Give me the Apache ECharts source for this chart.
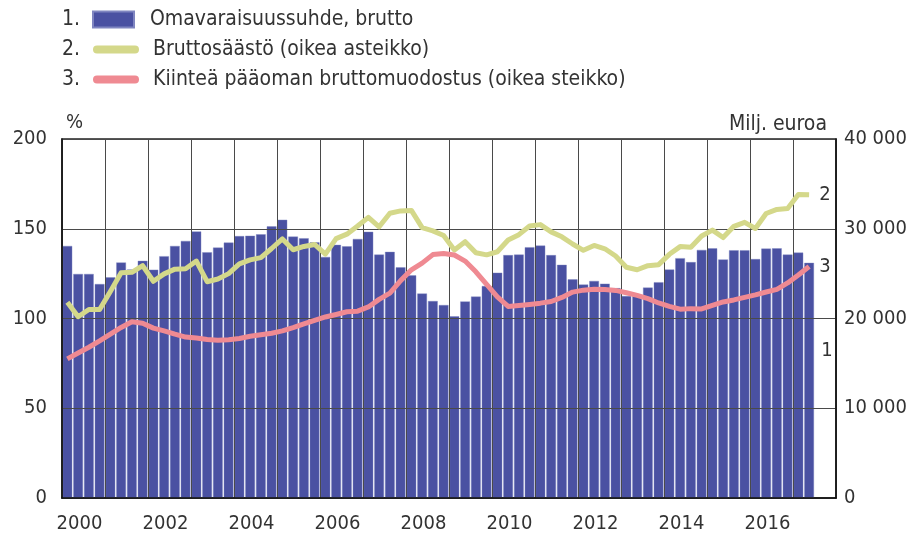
<!DOCTYPE html>
<html><head><meta charset="utf-8">
<script src="https://cdn.jsdelivr.net/npm/echarts@6/dist/echarts.min.js"></script>
<style>html,body{margin:0;padding:0;background:#fff}#c{width:911px;height:534px}</style>
</head><body><div id="c"></div>
<script>
// ---- data ----
const years = ['2000','2001','2002','2003','2004','2005','2006','2007','2008','2009','2010','2011','2012','2013','2014','2015','2016','2017'];
const quarterNames = ['Q1','Q2','Q3','Q4'];
// Omavaraisuussuhde, brutto (%), quarterly 2000Q1-2017Q2
const equityRatio = [
  140.4,124.8,124.8,119.2, 122.9,131.2,127.3,132.1, 127.2,134.7,140.4,143.2, 148.5,136.9,139.5,142.3,
  145.9,146.1,146.9,151.3, 155.0,145.6,144.7,142.4, 134.3,141.0,140.2,144.3, 148.3,135.6,137.1,128.5,
  124.0,113.9,109.7,107.5, 101.2,109.5,112.2,118.1, 125.5,135.3,135.6,139.7, 140.6,135.3,129.9,121.8,
  118.9,120.9,119.4,116.9, 112.5,112.5,117.2,120.2, 127.3,133.6,131.4,138.2, 139.1,132.9,138.0,138.0,
  133.1,138.9,139.1,135.6, 136.7,131.0
];
// Bruttosäästö (milj. euroa, oikea asteikko)
const grossSaving = [
  21800,20200,21000,21000, 23000,25100,25150,25900, 24150,24970,25500,25550, 26400,24100,24400,25000,
  26080,26530,26780,27800, 28870,27660,28030,28250, 27180,28900,29400,30300, 31270,30220,31730,31990,
  32040,30130,29760,29240, 27640,28560,27320,27090, 27440,28750,29340,30310, 30460,29650,29100,28300,
  27600,28140,27770,26960, 25710,25430,25890,26000, 27150,28010,27930,29200, 29850,29020,30270,30710,
  30030,31700,32150,32260, 33810,33780
];
// Kiinteä pääoman bruttomuodostus (milj. euroa, oikea asteikko)
const grossFixedCapital = [
  15500,16150,16800,17500, 18250,19000,19640,19480, 18930,18620,18250,17930, 17830,17650,17570,17640,
  17780,18020,18190,18360, 18620,18990,19400,19790, 20170,20450,20750,20820, 21290,22130,22820,24220,
  25430,26170,27120,27250, 27080,26400,25200,23800, 22400,21350,21450,21570, 21710,21890,22350,22940,
  23160,23260,23240,23130, 22870,22580,22210,21730, 21360,21040,21100,21060, 21470,21840,22070,22350,
  22630,22950,23250,23960, 24850,25800
];
const leftTicks = [0, 50, 100, 150, 200];
const rightTicks = [0, 10000, 20000, 30000, 40000];
const seriesNames = ['Omavaraisuussuhde, brutto','Bruttosäästö (oikea asteikko)','Kiinteä pääoman bruttomuodostus (oikea steikko)'];
const legendNumbers = ['1.','2.','3.'];
const endMarks = ['1','2','3'];

// ---- build ----
const quarterCats = [];
years.forEach(y => quarterNames.forEach(q => quarterCats.push(y + q)));

const FONT = "'DejaVu Sans Condensed','DejaVu Sans',sans-serif";
const TXT = '#333';
const GRIDC = '#4a4a4a';
const BAR = '#4a51a2', GREEN = '#d4d88a', PINK = '#ef8a92';
const fmtSpace = v => String(v).replace(/\B(?=(\d{3})+(?!\d))/g, ' ');
const capsule = 'path://M4,0 L42,0 A4,4 0 0 1 42,8 L4,8 A4,4 0 0 1 4,0 Z';
const LF = 21;
const rowY = [20, 50, 80];

const chart = echarts.init(document.getElementById('c'), null, {renderer:'canvas'});
chart.setOption({
  animation: false,
  textStyle: {fontFamily: FONT, fontSize: 20, color: TXT},
  grid: {left: 62, right: 75, top: 139, bottom: 33, show: true, borderColor: '#222', borderWidth: 1.5, backgroundColor: 'transparent'},
  legend: [
    {data: [{name: seriesNames[0], icon: 'rect'}], left: 92, top: rowY[0] - 11, padding: 0, itemWidth: 41, itemHeight: 16,
     textStyle: {fontFamily: FONT, fontSize: LF, color: TXT, padding: [0,0,0,11]}, selectedMode: false},
    {data: [{name: seriesNames[1], icon: capsule}], left: 93, top: rowY[1] - 11, padding: 0, itemWidth: 46, itemHeight: 8,
     textStyle: {fontFamily: FONT, fontSize: LF, color: TXT, padding: [0,0,0,9]}, selectedMode: false},
    {data: [{name: seriesNames[2], icon: capsule}], left: 93, top: rowY[2] - 11, padding: 0, itemWidth: 46, itemHeight: 8,
     textStyle: {fontFamily: FONT, fontSize: LF, color: TXT, padding: [0,0,0,9]}, selectedMode: false}
  ],
  graphic: legendNumbers.map((t, i) => ({type: 'text', x: 62, y: rowY[i],
    style: {text: t, font: LF + 'px ' + FONT, fill: TXT, verticalAlign: 'middle'}})),
  xAxis: [
    {type: 'category', data: quarterCats, boundaryGap: true, show: false, gridIndex: 0},
    {type: 'category', data: years, boundaryGap: true, position: 'bottom', gridIndex: 0, z: 3,
     axisLine: {show: true, lineStyle: {color: '#111', width: 1.5}},
     axisTick: {show: false},
     axisLabel: {interval: 1, margin: 16, fontFamily: FONT, fontSize: 20, color: TXT, padding: [0, 8, 0, 0]},
     splitLine: {show: true, interval: 0, lineStyle: {color: GRIDC, width: 1}}}
  ],
  yAxis: [
    {type: 'value', min: leftTicks[0], max: leftTicks[leftTicks.length-1], interval: leftTicks[1]-leftTicks[0], z: 3,
     name: '%', nameLocation: 'end', nameGap: 6,
     nameTextStyle: {fontFamily: FONT, fontSize: 20, color: TXT, align: 'left', padding: [0,0,0,4]},
     axisLine: {show: true, lineStyle: {color: '#111', width: 1.5}},
     axisTick: {show: false},
     axisLabel: {margin: 15, fontFamily: FONT, fontSize: 20, color: TXT},
     splitLine: {show: true, lineStyle: {color: GRIDC, width: 1}}},
    {type: 'value', min: rightTicks[0], max: rightTicks[rightTicks.length-1], interval: rightTicks[1]-rightTicks[0], position: 'right', z: 3,
     name: 'Milj. euroa', nameLocation: 'end', nameGap: 4,
     nameTextStyle: {fontFamily: FONT, fontSize: 21, color: TXT, align: 'right', padding: [0, 9, 0, 0]},
     axisLine: {show: true, lineStyle: {color: '#111', width: 1.5}},
     axisTick: {show: false},
     axisLabel: {margin: 8, fontFamily: FONT, fontSize: 20, color: TXT, formatter: fmtSpace},
     splitLine: {show: false}}
  ],
  series: [
    {name: seriesNames[0], type: 'bar', data: equityRatio, xAxisIndex: 0, yAxisIndex: 0, z: 2,
     barCategoryGap: '10%', itemStyle: {color: BAR, borderColor: '#7f85c0', borderWidth: 0.4},
     markPoint: {symbol: 'circle', symbolSize: 0, silent: true,
       data: [{coord: [equityRatio.length, 82], value: endMarks[0]}],
       label: {show: true, formatter: endMarks[0], position: 'inside', offset: [7, 0], fontFamily: FONT, fontSize: 20, color: TXT}}},
    {name: seriesNames[1], type: 'line', data: grossSaving, xAxisIndex: 0, yAxisIndex: 1, z: 5,
     symbol: 'none', color: GREEN, lineStyle: {color: GREEN, width: 5, join: 'round'},
     endLabel: {show: true, formatter: endMarks[1], distance: 10, fontFamily: FONT, fontSize: 20, color: TXT}},
    {name: seriesNames[2], type: 'line', data: grossFixedCapital, xAxisIndex: 0, yAxisIndex: 1, z: 6,
     symbol: 'none', color: PINK, lineStyle: {color: PINK, width: 5, join: 'round'},
     endLabel: {show: true, formatter: endMarks[2], distance: 10, fontFamily: FONT, fontSize: 20, color: TXT}}
  ]
});
</script></body></html>
